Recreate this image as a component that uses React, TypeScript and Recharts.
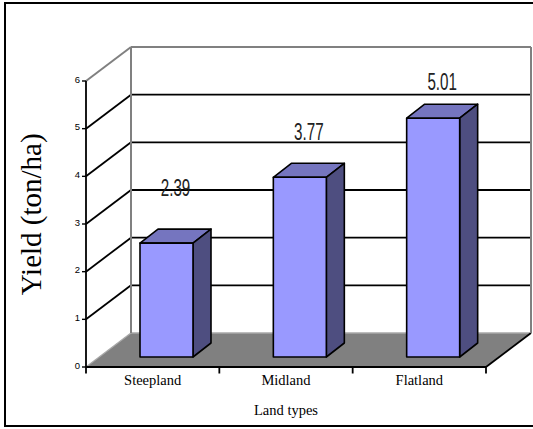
import React from "react";
import { BarChart, Bar, XAxis, YAxis, CartesianGrid, LabelList, Label } from "recharts";

const landTypes = ["Steepland", "Midland", "Flatland"];
const yieldValues = [2.39, 3.77, 5.01];
const yTicks = [0, 1, 2, 3, 4, 5, 6];

const data = landTypes.map((name, i) => ({ name, value: yieldValues[i] }));

// fake 3D: offset of the back wall, bar plane shift and bar depth
const WALL_DX = 45;
const WALL_DY = -34;
const BAR_SHIFT_X = 14;
const BAR_SHIFT_Y = -10;
const BAR_DX = 18;
const BAR_DY = -14;

const SERIF = "'Liberation Serif', 'Times New Roman', serif";
const SANS = "'Liberation Sans', Arial, sans-serif";

const Bar3D = (props: any) => {
  const { x, y, width, height } = props;
  const sx = x + BAR_SHIFT_X;
  const sy = y + BAR_SHIFT_Y;
  const r = sx + width;
  const b = sy + height;
  return (
    <g stroke="#000" strokeWidth={1.6} strokeLinejoin="round">
      <polygon
        points={`${sx},${sy} ${sx + BAR_DX},${sy + BAR_DY} ${r + BAR_DX},${sy + BAR_DY} ${r},${sy}`}
        fill="#7575BF"
      />
      <polygon
        points={`${r},${sy} ${r + BAR_DX},${sy + BAR_DY} ${r + BAR_DX},${b + BAR_DY} ${r},${b}`}
        fill="#4E4E80"
      />
      <rect x={sx} y={sy} width={width} height={height} fill="#9999FF" />
    </g>
  );
};

const ValueLabel = (props: any) => {
  const { x, y, width, height, value } = props;
  const cx = x + BAR_SHIFT_X + (width + BAR_DX) / 2;
  const base = y + BAR_SHIFT_Y - (65 - 0.154 * height);
  return (
    <text
      transform={`translate(${cx},${base}) scale(0.62,1)`}
      textAnchor="middle"
      fontFamily={SANS}
      fontSize={24.5}
      fill="#222"
    >
      {Number(value).toFixed(2)}
    </text>
  );
};

// each horizontal grid line becomes a back wall line + a side wall diagonal
const WallLine = (props: any) => {
  const { x1, x2, y1, y, height } = props;
  const top = y ?? 81;
  const bottom = (y ?? 81) + (height ?? 286.4);
  const bx1 = x1 + WALL_DX;
  const bx2 = x2 + WALL_DX;
  const by = y1 + WALL_DY;

  if (Math.abs(y1 - top) < 0.5) {
    return (
      <g stroke="#808080" strokeWidth={2} fill="none">
        <line x1={x1} y1={y1} x2={bx1} y2={by} />
        <line x1={bx1} y1={by} x2={bx2} y2={by} />
        <line x1={bx1} y1={by} x2={bx1} y2={bottom + WALL_DY} />
        <line x1={bx2} y1={by} x2={bx2} y2={bottom + WALL_DY} />
      </g>
    );
  }
  if (Math.abs(y1 - bottom) < 0.5) {
    const n = landTypes.length;
    const step = (x2 - x1) / n;
    return (
      <g>
        <polygon points={`${x1},${y1} ${x2},${y1} ${bx2},${by} ${bx1},${by}`} fill="#808080" stroke="none" />
        <line x1={x1} y1={y1} x2={bx1} y2={by} stroke="#a8a8a8" strokeWidth={1.3} />
        <line x1={bx1} y1={by} x2={bx2} y2={by} stroke="#a8a8a8" strokeWidth={1.3} />
        <line x1={x2} y1={y1} x2={bx2} y2={by} stroke="#000" strokeWidth={1.8} />
        {Array.from({ length: n + 1 }, (_, i) => (
          <line key={i} x1={x1 + i * step} y1={y1} x2={x1 + i * step} y2={y1 + 6.5} stroke="#000" strokeWidth={1.8} />
        ))}
      </g>
    );
  }
  return (
    <g stroke="#000" strokeWidth={1.8} fill="none">
      <line x1={x1} y1={y1} x2={bx1} y2={by} />
      <line x1={bx1} y1={by} x2={bx2} y2={by} />
    </g>
  );
};

const XTick = (props: any) => {
  const { x, y, payload } = props;
  return (
    <text x={x} y={y + 17.6} textAnchor="middle" fontFamily={SERIF} fontSize={14.5} fill="#000">
      {payload.value}
    </text>
  );
};

const YTick = (props: any) => {
  const { x, y, payload } = props;
  return (
    <text x={x} y={y + 1.5} textAnchor="end" fontFamily={SANS} fontSize={9.5} fill="#000">
      {payload.value}
    </text>
  );
};

export default function App() {
  return (
    <div style={{ position: "absolute", left: 0, top: 0, width: 533, height: 429, overflow: "hidden", background: "#fff" }}>
      <div
        style={{
          position: "absolute",
          left: 4,
          top: 2,
          width: 540,
          height: 425,
          border: "2px solid #000",
          boxSizing: "border-box",
        }}
      />
      <div style={{ position: "absolute", left: 0, top: 0 }}>
        <BarChart width={533} height={429} data={data} margin={{ top: 81, right: 47, bottom: 22, left: 46 }}>
          <CartesianGrid vertical={false} horizontal={(p: any) => <WallLine {...p} />} />
          <XAxis
            dataKey="name"
            height={40}
            interval={0}
            tickLine={false}
            tickSize={0}
            tickMargin={0}
            axisLine={{ stroke: "#000", strokeWidth: 1.8 }}
            tick={<XTick />}
          >
            <Label
              content={(p: any) => {
                const vb = p.viewBox;
                return (
                  <text x={vb.x + vb.width / 2} y={vb.y + 47.6} textAnchor="middle" fontFamily={SERIF} fontSize={14.5} fill="#000">
                    Land types
                  </text>
                );
              }}
            />
          </XAxis>
          <YAxis
            width={40}
            domain={[0, 6]}
            ticks={yTicks}
            interval={0}
            tickSize={4}
            tickMargin={2}
            axisLine={{ stroke: "#000", strokeWidth: 1.8 }}
            tickLine={{ stroke: "#000", strokeWidth: 1.4 }}
            tick={<YTick />}
          >
            <Label
              content={(p: any) => {
                const vb = p.viewBox;
                const cx = vb.x - 5;
                const cy = vb.y + vb.height / 2 - 9.7;
                return (
                  <text
                    x={cx}
                    y={cy}
                    transform={`rotate(-90, ${cx}, ${cy})`}
                    textAnchor="middle"
                    fontFamily={SERIF}
                    fontSize={29}
                    fill="#000"
                  >
                    Yield (ton/ha)
                  </text>
                );
              }}
            />
          </YAxis>
          <Bar dataKey="value" barSize={53} shape={Bar3D} isAnimationActive={false}>
            <LabelList dataKey="value" content={ValueLabel} />
          </Bar>
        </BarChart>
      </div>
    </div>
  );
}
